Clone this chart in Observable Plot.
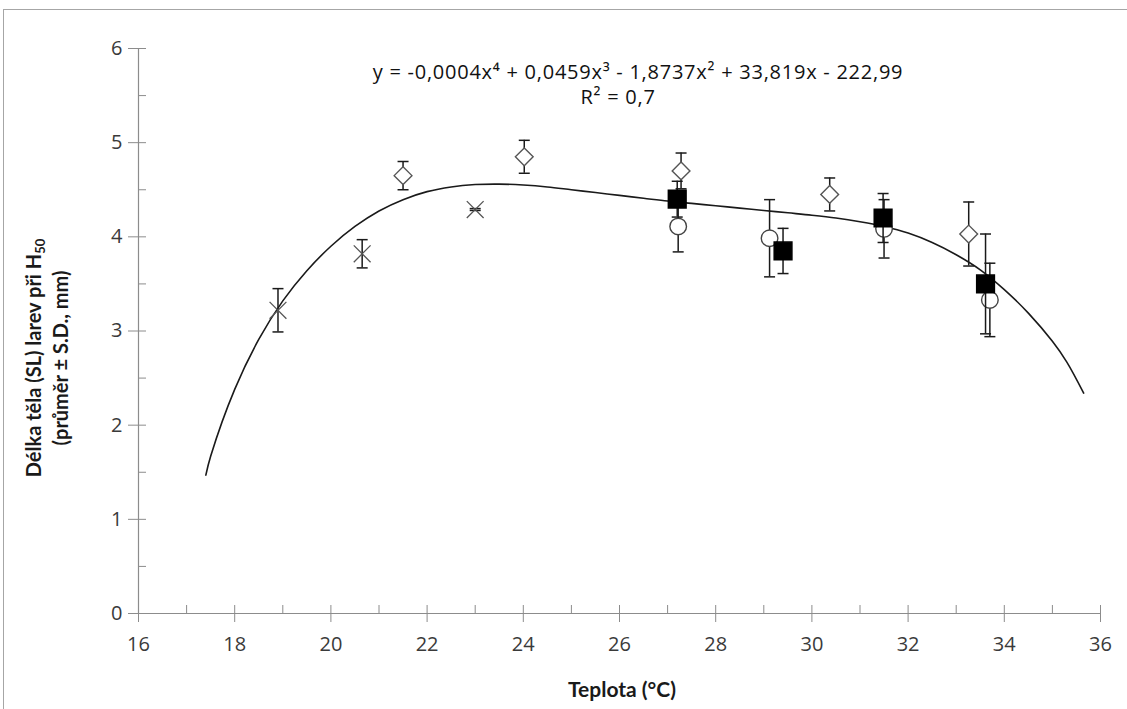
<!DOCTYPE html>
<html><head><meta charset="utf-8">
<script src="https://cdn.jsdelivr.net/npm/d3@7"></script>
<script src="https://cdn.jsdelivr.net/npm/@observablehq/plot@0.6"></script>
<style>
html,body{margin:0;padding:0;background:#fff;overflow:hidden;width:1127px;height:709px;}
#frame{position:absolute;left:3px;top:9px;width:1300px;height:900px;border:1px solid #a6a6a6;}
#chart{position:absolute;left:0;top:0;}
</style></head><body>
<div id="frame"></div>
<div id="chart"></div>
<script>
// ---- Data ----
const xMajorTicks = [16,18,20,22,24,26,28,30,32,34,36];
const xMinorTicks = [17,19,21,23,25,27,29,31,33,35];
const yMajorTicks = [0,1,2,3,4,5,6];
const yMinorTicks = [0.5,1.5,2.5,3.5,4.5,5.5];

// series "x" markers
const crossT = [18.9, 20.65, 23.0];
const crossV = [3.22, 3.82, 4.29];
const crossSD = [0.23, 0.15, 0.01];
// open diamonds
const diamT = [21.5, 24.02, 27.28, 30.37, 33.26];
const diamV = [4.65, 4.85, 4.70, 4.45, 4.03];
const diamSD = [0.15, 0.175, 0.19, 0.175, 0.34];
// open circles
const circT = [27.22, 29.12, 31.5, 33.7];
const circV = [4.11, 3.985, 4.085, 3.33];
const circSD = [0.27, 0.41, 0.31, 0.39];
// filled squares
const sqT = [27.2, 29.4, 31.48, 33.61];
const sqV = [4.40, 3.85, 4.20, 3.50];
const sqSD = [0.19, 0.24, 0.26, 0.53];

// fitted trend line
const curveT = [17.4,17.5,18,18.5,19,19.5,20,20.5,21,21.5,22,22.5,23,23.5,24,24.5,25,25.5,26,26.5,27,27.5,28,28.5,29,29.5,30,30.5,31,31.5,32,32.5,33,33.5,34,34.5,35,35.3,35.65];
const curveV = [1.47,1.67,2.38,2.91,3.32,3.64,3.90,4.11,4.275,4.395,4.48,4.53,4.555,4.56,4.55,4.53,4.50,4.47,4.44,4.41,4.38,4.355,4.33,4.305,4.28,4.255,4.23,4.20,4.16,4.11,4.04,3.94,3.81,3.65,3.44,3.19,2.89,2.67,2.34];

const equationText = "y = -0,0004x⁴ + 0,0459x³ - 1,8737x² + 33,819x - 222,99";
const r2Text = "R² = 0,7";
const xTitle = "Teplota (°C)";

// ---- Build tables ----
const toRows = (T, V, S) => T.map((t, i) => ({t, v: V[i], sd: S[i]}));
const cross = toRows(crossT, crossV, crossSD);
const diam = toRows(diamT, diamV, diamSD);
const circ = toRows(circT, circV, circSD);
const sq = toRows(sqT, sqV, sqSD);
const curve = curveT.map((t, i) => ({t, v: curveV[i]}));

const W = 1127, H = 709, ML = 138, MR = 27, MT = 48, MB = 96;
const PW = W - ML - MR, PH = H - MT - MB;
const axisColor = "#8c8c8c";
const capSymbol = {draw(ctx, size) { const r = Math.sqrt(size / Math.PI); ctx.moveTo(-r, 0); ctx.lineTo(r, 0); }};

function errorBars(rows, stroke) {
  return [
    Plot.ruleX(rows, {x: "t", y1: d => d.v - d.sd, y2: d => d.v + d.sd, stroke, strokeWidth: 1.5}),
    Plot.dot(rows, {x: "t", y: d => d.v - d.sd, symbol: capSymbol, r: 5.5, stroke, strokeWidth: 1.5}),
    Plot.dot(rows, {x: "t", y: d => d.v + d.sd, symbol: capSymbol, r: 5.5, stroke, strokeWidth: 1.5})
  ];
}

const chart = Plot.plot({
  width: W, height: H,
  marginLeft: ML, marginRight: MR, marginTop: MT, marginBottom: MB,
  x: {domain: [16, 36]},
  y: {domain: [0, 6]},
  style: {fontFamily: "'Open Sans', sans-serif", fontSize: "20px", color: "#3a3a3a", background: "transparent", overflow: "visible"},
  marks: [
    Plot.ruleY([0], {stroke: axisColor, strokeWidth: 1.2}),
    Plot.ruleX([16], {stroke: axisColor, strokeWidth: 1.2}),
    Plot.tickY(yMajorTicks, {y: d => d, dx: -10, insetRight: PW - 18, stroke: axisColor}),
    Plot.tickY(yMinorTicks, {y: d => d, insetRight: PW - 8, stroke: axisColor}),
    Plot.tickX(xMajorTicks, {x: d => d, dy: 9, insetTop: PH - 17, stroke: axisColor}),
    Plot.tickX(xMinorTicks, {x: d => d, insetTop: PH - 8, stroke: axisColor}),
    Plot.axisX({ticks: xMajorTicks, tickSize: 0, tickPadding: 23, label: null, tickFormat: d => String(d), fill: "#3a3a3a"}),
    Plot.axisY({ticks: yMajorTicks, tickSize: 0, tickPadding: 16, label: null, tickFormat: d => String(d), fill: "#3a3a3a"}),
    Plot.line(curve, {x: "t", y: "v", curve: "catmull-rom", stroke: "#1a1a1a", strokeWidth: 1.6}),
    ...errorBars(cross, "#1a1a1a"),
    Plot.dot(cross, {x: "t", y: "v", symbol: "times", r: 7.7, stroke: "#555", strokeWidth: 1.3}),
    ...errorBars(diam, "#1a1a1a"),
    Plot.dot(diam, {x: "t", y: "v", symbol: "diamond2", r: 8, stroke: "#555", fill: "white", strokeWidth: 1.4}),
    ...errorBars(circ, "#1a1a1a"),
    Plot.dot(circ, {x: "t", y: "v", symbol: "circle", r: 8.3, stroke: "#444", fill: "white", strokeWidth: 1.4}),
    ...errorBars(sq, "#1a1a1a"),
    Plot.dot(sq, {x: "t", y: "v", symbol: "square", r: 10, stroke: "black", fill: "black"})
  ]
});
document.getElementById("chart").appendChild(chart);

// ---- Annotations / titles ----
const svg = d3.select(chart);
const ff = "'Open Sans', sans-serif";
const fb = "Lato, 'Open Sans', sans-serif";
svg.append("text").attr("x", 638).attr("y", 79).attr("text-anchor", "middle")
  .attr("font-family", ff).attr("font-size", 20).attr("letter-spacing", 0.75).attr("fill", "#111").text(equationText);
svg.append("text").attr("x", 618).attr("y", 104).attr("text-anchor", "middle")
  .attr("font-family", ff).attr("font-size", 20).attr("letter-spacing", 0.75).attr("fill", "#111").text(r2Text);
svg.append("text").attr("x", 622).attr("y", 697).attr("text-anchor", "middle")
  .attr("font-family", fb).attr("font-size", 21).attr("font-weight", "bold").attr("fill", "#1a1a1a").text(xTitle);
const yt = svg.append("g").attr("transform", "translate(41,358) rotate(-90)")
  .attr("font-family", fb).attr("font-size", 20).attr("font-weight", "bold").attr("fill", "#1a1a1a").attr("text-anchor", "middle");
const l1 = yt.append("text").attr("x", 0).attr("y", 0);
l1.append("tspan").text("Délka těla (SL) larev při H");
l1.append("tspan").attr("font-size", 13).attr("dy", 4).text("50");
yt.append("text").attr("x", 0).attr("y", 27).text("(průměr ± S.D., mm)");
</script>
</body></html>
